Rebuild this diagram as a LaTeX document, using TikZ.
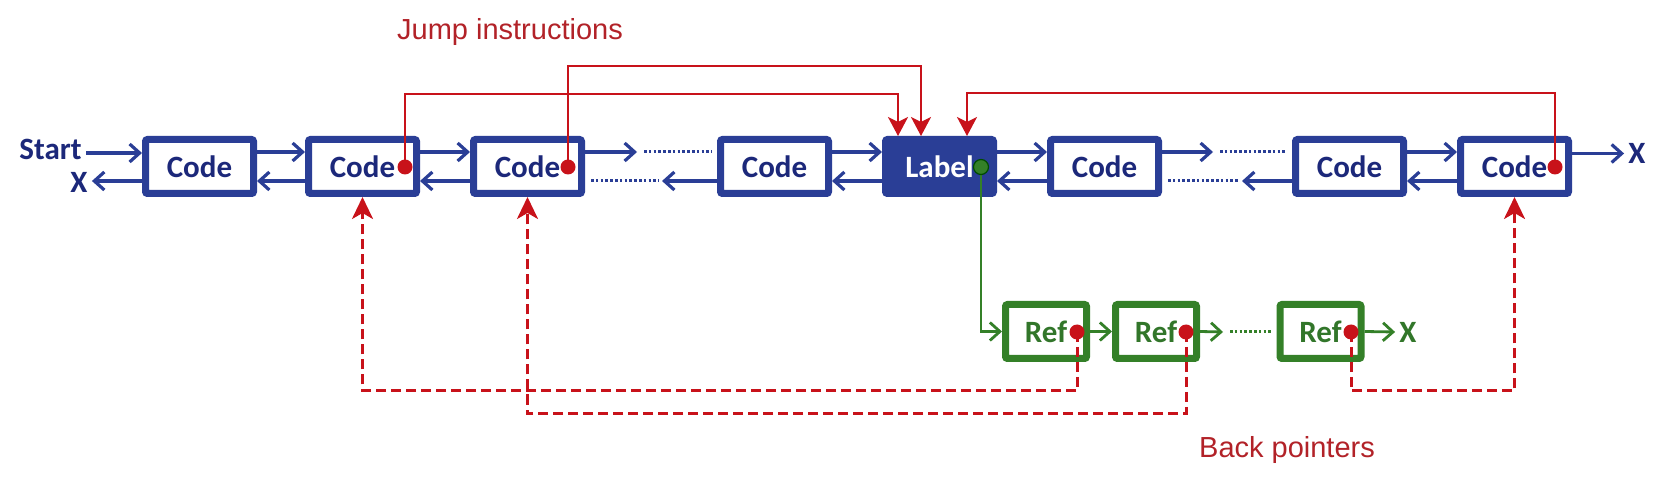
\documentclass[tikz,border=0pt]{standalone}
\usepackage{fontspec}
\setmainfont{Carlito}
\newfontfamily\arialf{Liberation Sans}
\usetikzlibrary{arrows.meta,calc}
\definecolor{bblue}{RGB}{42,62,150}
\definecolor{tblue}{RGB}{28,40,122}
\definecolor{rline}{RGB}{200,18,26}
\definecolor{rtext}{RGB}{178,34,40}
\definecolor{gline}{RGB}{52,128,40}
\definecolor{gtext}{RGB}{50,118,42}
\begin{document}
\begin{tikzpicture}[x=0.5pt,y=-0.5pt,
  codebox/.style={draw=bblue,line width=3.5pt,fill=white,rounded corners=1pt,minimum width=54pt,minimum height=27pt,inner sep=0pt,font=\bfseries\fontsize{15.5}{15.5}\selectfont,text=tblue},
  labelbox/.style={codebox,fill=bblue,text=white},
  refbox/.style={draw=gline,line width=3.5pt,fill=white,rounded corners=1pt,minimum width=40.5pt,minimum height=27pt,inner sep=0pt,font=\bfseries\fontsize{15.5}{15.5}\selectfont,text=gtext},
  lbl/.style={font=\bfseries\fontsize{15.5}{15.5}\selectfont,text=tblue,inner sep=2pt},
  glbl/.style={lbl,text=gtext},
  redtext/.style={font=\arialf\fontsize{14.5}{14.5}\selectfont,text=rtext,inner sep=0pt},
  barrow/.style={draw=bblue,line width=1.6pt,-{Straight Barb[length=5pt,width=9pt]}},
  bdots/.style={draw=bblue,line width=1.5pt,dash pattern=on 1.3pt off 1.1pt},
  garrow/.style={draw=gline,line width=1.4pt,-{Straight Barb[length=5pt,width=9pt]}},
  gdots/.style={draw=gline,line width=1.5pt,dash pattern=on 1.3pt off 1.1pt},
  jump/.style={draw=rline,line width=1.35pt,-{Stealth[length=9.5pt,width=10pt,inset=2.5pt]}},
  back/.style={draw=rline,line width=1.5pt,dash pattern=on 5pt off 2.5pt,-{Stealth[length=11pt,width=10.5pt,inset=3pt]}},
  rdot/.style={circle,fill=rline,inner sep=0pt,minimum size=7.5pt},
  gdot/.style={circle,fill=gline,draw=green!30!black,line width=0.6pt,inner sep=0pt,minimum size=7.5pt}
]
\useasboundingbox (0,0) rectangle (1654,480);
\fill[white] (0,0) rectangle (1654,480);

% text labels
\node[redtext,anchor=base] (jt) at (510,40) {Jump instructions};
\node[redtext,anchor=base] (bt) at (1287,458) {Back pointers};

% main row
\node[codebox] (c1) at (199.5,166.5) {Code};
\node[codebox] (c2) at (362.5,166.5) {Code};
\node[codebox] (c3) at (527.5,166.5) {Code};
\node[codebox] (c4) at (774.5,166.5) {Code};
\node[labelbox] (lab) at (939.5,166.5) {Label};
\node[codebox] (c6) at (1104.5,166.5) {Code};
\node[codebox] (c7) at (1349.5,166.5) {Code};
\node[codebox] (c8) at (1514.5,166.5) {Code};

\node[lbl,anchor=base east] (start) at (86,160) {Start};
\node[lbl] (xl) at (79,182) {X};
\node[lbl] (xr) at (1637,153.5) {X};

% ref row
\node[refbox] (r1) at (1046,331.5) {Ref};
\node[refbox] (r2) at (1156,331.5) {Ref};
\node[refbox] (r3) at (1320.5,331.5) {Ref};
\node[glbl] (xg) at (1408,332) {X};

% dot positions
\coordinate (jd2) at (405,167);
\coordinate (jd3) at (568,167);
\coordinate (jd8) at (1555,167);
\coordinate (gd) at (981,167);
\coordinate (rd1) at (1077,332);
\coordinate (rd2) at (1186,332);
\coordinate (rd3) at (1351,332);

% blue links
\draw[barrow] (start.east |- 0,153) -- (c1.west |- 0,153);
\draw[barrow] (c1.west |- 0,181) -- (xl.east |- 0,181);
\foreach \a/\b in {c1/c2,c2/c3,c4/lab,lab/c6,c7/c8}{
  \draw[barrow] (\a.east |- 0,152) -- (\b.west |- 0,152);
  \draw[barrow] (\b.west |- 0,181) -- (\a.east |- 0,181);
}
\coordinate (t3) at (637,152);
\coordinate (b3) at (662,181);
\draw[barrow] (c3.east |- t3) -- (t3);
\draw[bdots] (644,152) -- (712,152);
\draw[bdots] (591,181) -- (659,181);
\draw[barrow] (c4.west |- b3) -- (b3);
\coordinate (t6) at (1213,152);
\coordinate (b6) at (1242,181);
\draw[barrow] (c6.east |- t6) -- (t6);
\draw[bdots] (1220,152) -- (1286,152);
\draw[bdots] (1168,181) -- (1239,181);
\draw[barrow] (c7.west |- b6) -- (b6);
\draw[barrow] (c8.east |- xr.west) -- (xr.west);

% jump instructions
\coordinate (k2) at (898,94);
\coordinate (k3) at (921,66);
\coordinate (k8) at (967,93);
\draw[jump] (jd2) |- (k2) -- (k2 |- lab.north);
\draw[jump] (jd3) |- (k3) -- (k3 |- lab.north);
\draw[jump] (jd8) |- (k8) -- (k8 |- lab.north);

% green references
\draw[garrow] (gd) |- (r1.west);
\draw[garrow] (r1.east) -- (r2.west);
\coordinate (g2) at (1223,332);
\draw[garrow] (r2.east) -- (g2);
\draw[gdots] (1230,332) -- (1272,332);
\draw[garrow] (r3.east) -- (xg.west);

% back pointers
\draw[back] (rd1) -- (rd1 |- 0,391) -| (c2.south);
\draw[back] (rd2) -- (rd2 |- 0,414) -| (c3.south);
\draw[back] (rd3) -- (rd3 |- 0,391) -| (c8.south);

% dots on top
\node[rdot] (n2) at (jd2) {};
\node[rdot] (n3) at (jd3) {};
\node[rdot] (n8) at (jd8) {};
\node[gdot] (ng) at (gd) {};
\node[rdot] (m1) at (rd1) {};
\node[rdot] (m2) at (rd2) {};
\node[rdot] (m3) at (rd3) {};
\end{tikzpicture}
\end{document}
